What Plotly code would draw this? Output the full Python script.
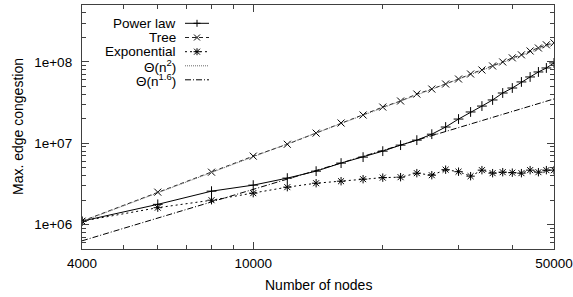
import plotly.graph_objects as go

# ---- data ----
nodes = [4000, 6000, 8000, 10000, 12000, 14000, 16000, 18000, 20000, 22000, 24000, 26000,
         28000, 30000, 32000, 34000, 36000, 38000, 40000, 42000, 44000, 46000, 48000, 50000]
power_law = [1.10e6, 1.77e6, 2.57e6, 3.05e6, 3.72e6, 4.53e6, 5.69e6, 6.74e6, 7.98e6, 9.46e6,
             1.09e7, 1.29e7, 1.58e7, 1.98e7, 2.42e7, 2.86e7, 3.40e7, 4.14e7, 4.77e7, 5.66e7,
             6.52e7, 7.51e7, 8.41e7, 9.70e7]
tree = [1.10e6, 2.50e6, 4.40e6, 6.93e6, 9.70e6, 1.33e7, 1.77e7, 2.22e7, 2.78e7, 3.30e7,
        4.02e7, 4.63e7, 5.34e7, 6.15e7, 7.09e7, 7.94e7, 8.90e7, 9.97e7, 1.12e8, 1.22e8,
        1.36e8, 1.48e8, 1.62e8, 1.71e8]
exponential = [1.10e6, 1.61e6, 1.99e6, 2.43e6, 2.88e6, 3.22e6, 3.41e6, 3.61e6, 3.77e6, 3.82e6,
               4.28e6, 4.04e6, 4.72e6, 4.46e6, 3.93e6, 4.66e6, 4.28e6, 4.40e6, 4.34e6, 4.28e6,
               4.66e6, 4.40e6, 4.66e6, 4.66e6]
theta_x = [4000, 50000]
theta_n2 = [1.09e6, 1.70e8]
theta_n16 = [6.3e5, 3.5e7]

x_ticks = [4000, 10000, 50000]
x_ticktext = ["4000", "10000", "50000"]
x_minor = [5000, 6000, 7000, 8000, 9000, 20000, 30000, 40000]
y_ticks = [1e6, 1e7, 1e8]
y_ticktext = ["1e+06", "1e+07", "1e+08"]
y_minor = [6e5, 7e5, 8e5, 9e5, 2e6, 3e6, 4e6, 5e6, 6e6, 7e6, 8e6, 9e6,
           2e7, 3e7, 4e7, 5e7, 6e7, 7e7, 8e7, 9e7, 2e8, 3e8, 4e8]

legend_labels = ["Power law", "Tree", "Exponential", "Θ(n<sup>2</sup>)", "Θ(n<sup>1.6</sup>)"]

# ---- styles ----
FONT = "Liberation Sans, Arial, Helvetica, sans-serif"
W, H = 573, 297
L, R, T, B = 82, 19, 5, 48
PW, PH = W - L - R, H - T - B

styles = [
    dict(dash="solid", color="black", symbol="cross-thin"),
    dict(dash="4px,3px", color="#222222", symbol="x-thin"),
    dict(dash="2px,3px", color="black", symbol="asterisk"),
    dict(dash="1px,1px", color="#6a6a6a", symbol=None),
    dict(dash="6px,2px,1px,2px", color="black", symbol=None),
]
series = [(nodes, power_law), (nodes, tree), (nodes, exponential),
          (theta_x, theta_n2), (theta_x, theta_n16)]

fig = go.Figure()
for (xs, ys), st, name in zip(series, styles, legend_labels):
    kw = dict(x=xs, y=ys, name=name, showlegend=False,
              line=dict(color=st["color"], width=1, dash=st["dash"]))
    if st["symbol"]:
        kw["mode"] = "lines+markers"
        kw["marker"] = dict(symbol=st["symbol"], size=7, color="black",
                            line=dict(color="black", width=1))
    else:
        kw["mode"] = "lines"
    fig.add_trace(go.Scatter(**kw))

def px(X):
    return (X - L) / PW

def py(Y):
    return (H - B - Y) / PH

# ---- manual gnuplot-style legend (text left, sample right) ----
rows_y = [23.3, 37.5, 51.7, 65.8, 79.8]
annotations = []
shapes = []
for lab, yy, st in zip(legend_labels, rows_y, styles):
    annotations.append(dict(x=px(178), y=py(yy), xref="paper", yref="paper",
                            text=lab, showarrow=False, xanchor="right", yanchor="middle",
                            font=dict(family=FONT, size=13.5, color="black")))
    shapes.append(dict(type="line", xref="paper", yref="paper",
                       x0=px(185), x1=px(209), y0=py(yy), y1=py(yy),
                       line=dict(color=st["color"], width=1, dash=st["dash"])))
    cx, r = 197, 3.5
    segs = []
    if st["symbol"] in ("cross-thin", "asterisk"):
        segs += [((cx, yy - r), (cx, yy + r)), ((cx - r, yy), (cx + r, yy))]
    if st["symbol"] in ("x-thin", "asterisk"):
        segs += [((cx - 3, yy - 3), (cx + 3, yy + 3)), ((cx - 3, yy + 3), (cx + 3, yy - 3))]
    for (a, b) in segs:
        shapes.append(dict(type="line", xref="paper", yref="paper",
                           x0=px(a[0]), y0=py(a[1]), x1=px(b[0]), y1=py(b[1]),
                           line=dict(color="black", width=1)))

# axis titles
annotations.append(dict(x=0.5, y=py(285), xref="paper", yref="paper", text="Number of nodes",
                        showarrow=False, xanchor="center", yanchor="middle",
                        font=dict(family=FONT, size=14, color="black")))
annotations.append(dict(x=px(18), y=0.5, xref="paper", yref="paper", text="Max. edge congestion",
                        showarrow=False, xanchor="center", yanchor="middle", textangle=-90,
                        font=dict(family=FONT, size=14, color="black")))

axis_common = dict(showgrid=False, zeroline=False, showline=True, linecolor="#404040",
                   linewidth=1.3, mirror="ticks", ticks="inside", ticklen=7, tickwidth=1,
                   tickcolor="#404040", tickfont=dict(family=FONT, size=13.5, color="black"))

fig.update_layout(
    width=W, height=H,
    margin=dict(l=L, r=R, t=T, b=B, autoexpand=False),
    paper_bgcolor="white", plot_bgcolor="white",
    xaxis=dict(type="log", range=[3.60206, 4.69897], tickmode="array",
               tickvals=x_ticks, ticktext=x_ticktext, ticklabelstandoff=2,
               minor=dict(tickmode="array", tickvals=x_minor, ticks="inside", ticklen=4,
                          tickcolor="#404040", tickwidth=1),
               **axis_common),
    yaxis=dict(type="log", range=[5.69897, 8.69897], tickmode="array",
               tickvals=y_ticks, ticktext=y_ticktext, ticklabelstandoff=6,
               minor=dict(tickmode="array", tickvals=y_minor, ticks="inside", ticklen=4,
                          tickcolor="#404040", tickwidth=1),
               **axis_common),
    annotations=annotations,
    shapes=shapes,
    showlegend=False,
)

fig.write_html("out.html", config={"displayModeBar": False},
               post_script="document.body.style.margin='0';document.body.style.overflow='hidden';")
